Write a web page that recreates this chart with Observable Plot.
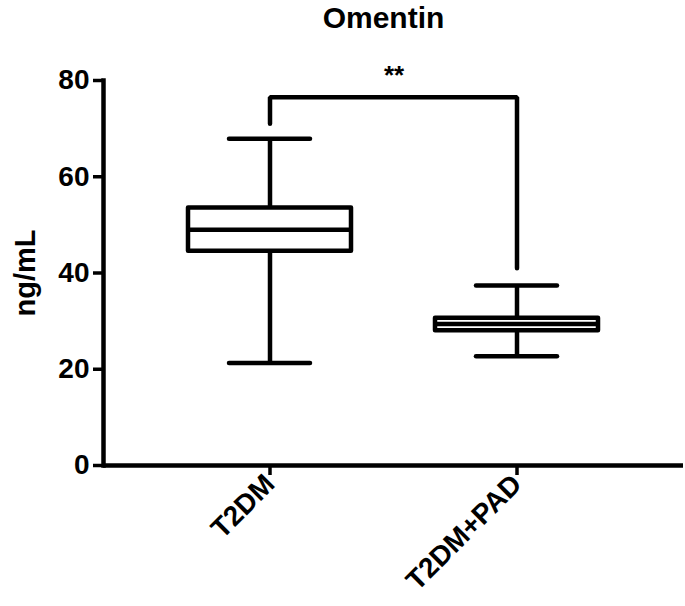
<!DOCTYPE html>
<html>
<head>
<meta charset="utf-8">
<script src="https://cdn.jsdelivr.net/npm/d3@7"></script>
<script src="https://cdn.jsdelivr.net/npm/@observablehq/plot@0.6"></script>
<style>
  html, body { margin: 0; padding: 0; background: #fff; }
  #wrap { position: relative; width: 685px; height: 606px; }
  #title { position: absolute; top: 1px; left: 82px; right: 0; text-align: center;
           font: bold 30px "Liberation Sans", Arial, sans-serif; color: #000; }
</style>
</head>
<body>
<div id="wrap">
  <div id="title">Omentin</div>
</div>
<script>
const groups  = ["T2DM", "T2DM+PAD"];
const mins    = [21.3, 22.7];
const q1s     = [44.5, 28.0];
const medians = [49.0, 29.4];
const q3s     = [53.5, 30.6];
const maxs    = [67.9, 37.4];
const bracketGroups = ["T2DM", "T2DM", "T2DM+PAD", "T2DM+PAD"];
const bracketValues = [71, 76.5, 76.5, 41];
const sigLabel = "**";
const sigValue = 81;
const yTicks = [0, 20, 40, 60, 80];

const boxes = groups.map((g, i) => ({group: g, min: mins[i], q1: q1s[i], median: medians[i], q3: q3s[i], max: maxs[i]}));
const bracket = bracketGroups.map((g, i) => ({group: g, value: bracketValues[i]}));

const font = "Liberation Sans, Arial, sans-serif";
const sw = 4.5;

const plot = Plot.plot({
  width: 685,
  height: 606,
  marginTop: 80,
  marginBottom: 141,
  marginLeft: 103,
  marginRight: 2,
  style: {fontFamily: font, background: "white", color: "black"},
  x: {domain: groups, padding: 0.34, label: null},
  y: {domain: [0, 80], label: null},
  marks: [
    Plot.axisY({ticks: yTicks, tickSize: 10, tickPadding: 4, strokeWidth: 3.5, fontSize: 28, fontWeight: "bold", label: null}),
    Plot.axisX({tickSize: 10, tickPadding: 4, strokeWidth: 3.5, tickRotate: -45, fontSize: 28, fontWeight: "bold", label: null}),
    Plot.text(["ng/mL"], {frameAnchor: "left", textAnchor: "middle", dx: -78, rotate: -90, fontSize: 29, fontWeight: "bold", fill: "black"}),
    Plot.ruleY([0], {stroke: "black", strokeWidth: sw}),
    Plot.frame({anchor: "left", stroke: "black", strokeWidth: sw}),
    Plot.ruleX(boxes, {x: "group", y1: "min", y2: "q1", stroke: "black", strokeWidth: sw}),
    Plot.ruleX(boxes, {x: "group", y1: "q3", y2: "max", stroke: "black", strokeWidth: sw}),
    Plot.tickY(boxes, {x: "group", y: "min", stroke: "black", strokeWidth: sw, strokeLinecap: "round", insetLeft: 41, insetRight: 41}),
    Plot.tickY(boxes, {x: "group", y: "max", stroke: "black", strokeWidth: sw, strokeLinecap: "round", insetLeft: 41, insetRight: 41}),
    Plot.barY(boxes, {x: "group", y1: "q1", y2: "q3", fill: "white", stroke: "black", strokeWidth: sw, strokeLinejoin: "round"}),
    Plot.tickY(boxes, {x: "group", y: "median", stroke: "black", strokeWidth: sw}),
    Plot.line(bracket, {x: "group", y: "value", stroke: "black", strokeWidth: sw, strokeLinecap: "round", strokeLinejoin: "miter", curve: "linear"}),
    Plot.text([sigLabel], {x: () => groups[0], y: () => sigValue, dx: 124, text: d => d, fontSize: 26, fontWeight: "bold", fill: "black"})
  ]
});
plot.style.position = "absolute";
plot.style.left = "0";
plot.style.top = "0";
plot.style.zIndex = "0";
document.getElementById("title").style.zIndex = "1";
document.getElementById("wrap").prepend(plot);
</script>
</body>
</html>
